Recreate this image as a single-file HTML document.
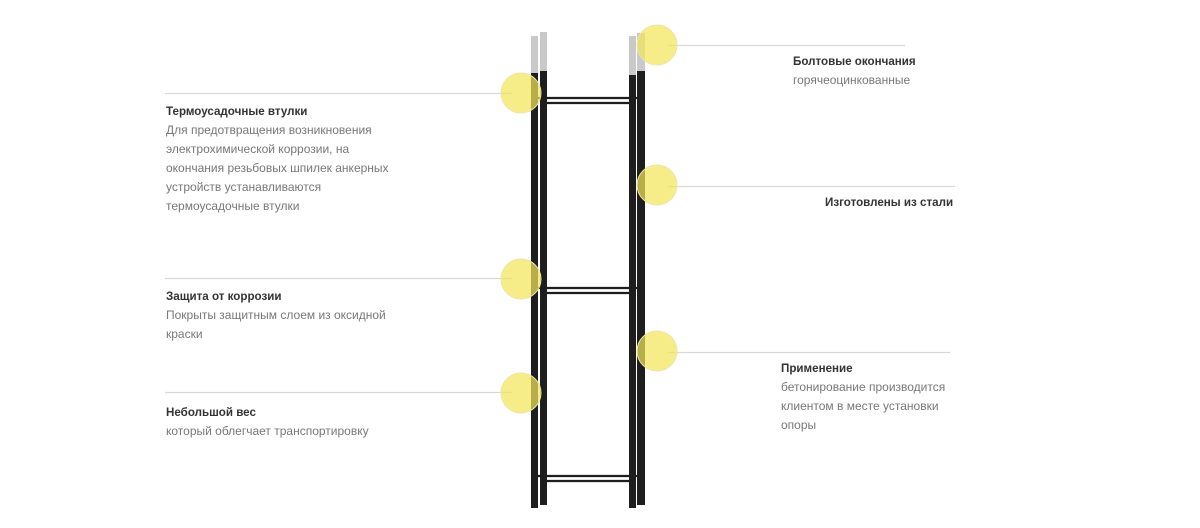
<!DOCTYPE html>
<html><head><meta charset="utf-8"><style>
body{margin:0;width:1200px;height:528px;background:#fff;position:relative;overflow:hidden;font-family:"Liberation Sans",sans-serif}
.t{position:absolute;font-size:12px;line-height:19px;color:#777}
.t b{color:#333;font-weight:bold;display:block;font-size:11.6px}
</style></head><body>
<svg width="1200" height="528" style="position:absolute;left:0;top:0">
<g stroke="#d8d8d8" stroke-width="1.2">
<line x1="165" y1="93.5" x2="512" y2="93.5"/>
<line x1="165" y1="278.5" x2="512" y2="278.5"/>
<line x1="165" y1="392.5" x2="512" y2="392.5"/>
<line x1="668" y1="45.5" x2="905" y2="45.5"/>
<line x1="668" y1="186.5" x2="955" y2="186.5"/>
<line x1="668" y1="352.5" x2="950" y2="352.5"/>
</g>
<g fill="#1e1e1e">
<rect x="531" y="72" width="7" height="436"/>
<rect x="540" y="70" width="7" height="435"/>
<rect x="629" y="74" width="7" height="434"/>
<rect x="637" y="70" width="8" height="435"/>
</g>
<g fill="#c9c9c9">
<rect x="531" y="36" width="7" height="37"/>
<rect x="540" y="32" width="7" height="39"/>
<rect x="629" y="36" width="7" height="39"/>
<rect x="637" y="33" width="8" height="38"/>
</g>
<g stroke="#1e1e1e" stroke-width="2.2">
<line x1="538" y1="98" x2="640" y2="98"/><line x1="545" y1="103" x2="632" y2="103"/>
<line x1="538" y1="288" x2="640" y2="288"/><line x1="545" y1="293" x2="632" y2="293"/>
<line x1="538" y1="476" x2="640" y2="476"/><line x1="545" y1="481" x2="632" y2="481"/>
</g>
<g fill="#f3e45a" fill-opacity="0.72" stroke="#ede6a8" stroke-width="1">
<circle cx="521" cy="93" r="20"/>
<circle cx="657" cy="45" r="20"/>
<circle cx="521" cy="279" r="20"/>
<circle cx="657" cy="185" r="20"/>
<circle cx="521" cy="393" r="20"/>
<circle cx="657" cy="351" r="20"/>
</g>
</svg>
<div class="t" style="left:166px;top:102px"><b>Термоусадочные втулки</b>Для предотвращения возникновения<br>электрохимической коррозии, на<br>окончания резьбовых шпилек анкерных<br>устройств устанавливаются<br>термоусадочные втулки</div>
<div class="t" style="left:166px;top:287px"><b>Защита от коррозии</b>Покрыты защитным слоем из оксидной<br>краски</div>
<div class="t" style="left:166px;top:403px"><b>Небольшой вес</b>который облегчает транспортировку</div>
<div class="t" style="left:793px;top:52px"><b>Болтовые окончания</b>горячеоцинкованные</div>
<div class="t" style="left:825px;top:193px"><b>Изготовлены из стали</b></div>
<div class="t" style="left:781px;top:359px"><b>Применение</b>бетонирование производится<br>клиентом в месте установки<br>опоры</div>
</body></html>
